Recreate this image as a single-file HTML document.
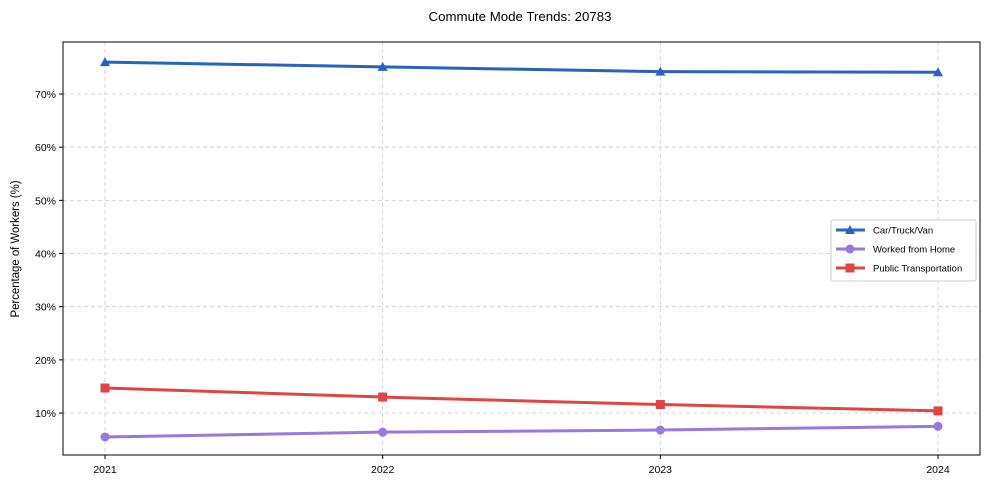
<!DOCTYPE html>
<html><head><meta charset="utf-8"><style>
body{margin:0;background:#fff;font-family:"Liberation Sans",Arial,sans-serif}
svg text{font-family:"Liberation Sans",Arial,sans-serif;fill:#000}
</style></head><body>
<svg id="c" width="990" height="490"></svg>
<script>
const years=["2021","2022","2023","2024"];
const carValues=[76.0,75.1,74.2,74.1];
const wfhValues=[5.5,6.4,6.8,7.5];
const ptValues=[14.7,13.0,11.6,10.4];
const yTicks=[10,20,30,40,50,60,70];
const NS="http://www.w3.org/2000/svg";
const svg=document.getElementById('c');
const L=63,R=980,T=42,B=455;
const x=i=>105+i*(938-105)/(years.length-1);
const y=v=>466.2-v*5.317;
function mk(t,a,p){const e=document.createElementNS(NS,t);for(const k in a)e.setAttribute(k,a[k]);(p||svg).appendChild(e);return e;}
const title=mk('text',{x:520,y:21,'text-anchor':'middle','font-size':12.5,textLength:183,lengthAdjust:'spacingAndGlyphs'});title.textContent="Commute Mode Trends: 20783";


const grid=mk('g',{});


yTicks.forEach(t=>{
 mk('line',{x1:L,x2:R,y1:y(t),y2:y(t),stroke:'#ccc','stroke-dasharray':'4,3','stroke-width':0.8},grid);
 mk('line',{x1:L-4,x2:L,y1:y(t),y2:y(t),stroke:'#000'});
 const tx=mk('text',{x:L-7,y:y(t)+4,'text-anchor':'end','font-size':10.5});tx.textContent=t+'%';
 
 
});
years.forEach((yr,i)=>{
 mk('line',{x1:x(i),x2:x(i),y1:T,y2:B,stroke:'#ccc','stroke-dasharray':'4,3','stroke-width':0.8},grid);
 mk('line',{x1:x(i),x2:x(i),y1:B,y2:B+4,stroke:'#000'});
 const tx=mk('text',{x:x(i),y:B+18,'text-anchor':'middle','font-size':10.5});tx.textContent=yr;
 
 
});
const fr=mk('rect',{x:L,y:T,width:R-L,height:B-T,fill:'none',stroke:'#000','stroke-width':1});


const yl=mk('text',{x:0,y:0,transform:'translate(19,249) rotate(-90)','text-anchor':'middle','font-size':11.5,textLength:137,lengthAdjust:'spacingAndGlyphs'});yl.textContent="Percentage of Workers (%)";


function marker(type,cx,cy,col,p){
 if(type==='tri')return mk('polygon',{points:`${cx},${cy-5} ${cx-5},${cy+4} ${cx+5},${cy+4}`,fill:col},p);
 if(type==='circ')return mk('circle',{cx,cy,r:4.5,fill:col},p);
 return mk('rect',{x:cx-4.5,y:cy-4.5,width:9,height:9,fill:col},p);
}
const series=[["Car/Truck/Van",carValues,'#2a62be','tri','series-car'],["Worked from Home",wfhValues,'#9b78dc','circ','series-wfh'],["Public Transportation",ptValues,'#e04545','sq','series-public-transport']];
series.forEach(([n,vals,col,m,name])=>{
 const g=mk('g',{});
 
 
 mk('polyline',{points:vals.map((v,i)=>x(i)+','+y(v)).join(' '),fill:'none',stroke:col,'stroke-width':3},g);
 vals.forEach((v,i)=>{const p=marker(m,x(i),y(v),col,g);});
});
const lg=mk('g',{});


mk('rect',{x:831,y:220,width:145,height:61,fill:'#fff',stroke:'#ccc',rx:2},lg);
series.forEach(([n,vals,col,m],i)=>{
 const yy=230+i*19;
 const e=mk('g',{},lg);
 
 
 mk('line',{x1:836,x2:865,y1:yy,y2:yy,stroke:col,'stroke-width':3},e);
 marker(m,850,yy,col,e);
 const t=mk('text',{x:873,y:yy+3.5,'font-size':9.5},e);t.textContent=n;
});
</script>
</body></html>
